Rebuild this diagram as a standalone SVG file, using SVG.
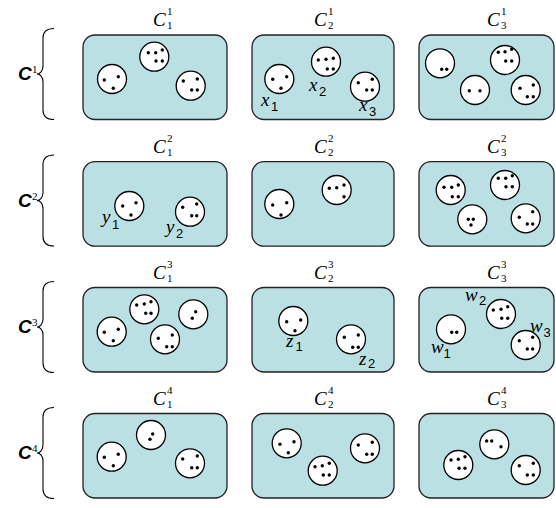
<svg xmlns="http://www.w3.org/2000/svg" width="556" height="508" viewBox="0 0 556 508">
<style>
.box{fill:#BBE0E3;stroke:#222;stroke-width:1.3}
.c{fill:#fff;stroke:#000;stroke-width:1.3}
.d{fill:#000}
.br{fill:none;stroke:#000;stroke-width:1.1}
.ct{font-family:"Liberation Serif",serif;font-style:italic;font-size:19px;fill:#000}
.cs{font-family:"Liberation Serif",serif;font-size:11px;fill:#000}
.rl{font-family:"Liberation Sans",Arial,sans-serif;font-style:italic;font-weight:bold;font-size:19px;fill:#000}
.vl{font-family:"Liberation Serif",serif;font-style:italic;font-size:19px;fill:#000}
.vs{font-family:"Liberation Sans",Arial,sans-serif;font-size:13px;fill:#000}
</style>
<rect width="556" height="508" fill="#fff"/>
<g id="braces">
<path class="br" d="M54,28.5 C47,28.5 43,31 43,38 L43,66 C43,71 40,74 37,74 C40,74 43,77 43,82 L43,110 C43,117 47,119.5 54,119.5"/>
<path class="br" d="M54,155 C47,155 43,157.5 43,164.5 L43,192.5 C43,197.5 40,200.5 37,200.5 C40,200.5 43,203.5 43,208.5 L43,236.5 C43,243.5 47,246 54,246"/>
<path class="br" d="M54,281.5 C47,281.5 43,284 43,291 L43,319 C43,324 40,327 37,327 C40,327 43,330 43,335 L43,363 C43,370 47,372.5 54,372.5"/>
<path class="br" d="M54,407.5 C47,407.5 43,410 43,417 L43,445 C43,450 40,453 37,453 C40,453 43,456 43,461 L43,489 C43,496 47,498.5 54,498.5"/>
</g>
<g id="row-labels">
<g id="C1"><text class="rl" x="18" y="80">C</text><text class="cs" x="32" y="73">1</text></g>
<g id="C2"><text class="rl" x="18" y="207">C</text><text class="cs" x="32" y="200">2</text></g>
<g id="C3"><text class="rl" x="18" y="333">C</text><text class="cs" x="32" y="326">3</text></g>
<g id="C4"><text class="rl" x="18" y="459">C</text><text class="cs" x="32" y="452">4</text></g>
</g>
<g id="column-labels">
<g><text class="ct" x="153" y="26">C</text><text class="cs" x="167" y="15">1</text><text class="cs" x="167" y="29">1</text></g>
<g><text class="ct" x="314" y="26">C</text><text class="cs" x="328" y="15">1</text><text class="cs" x="328" y="29">2</text></g>
<g><text class="ct" x="487" y="26">C</text><text class="cs" x="501" y="15">1</text><text class="cs" x="501" y="29">3</text></g>
<g><text class="ct" x="153" y="153">C</text><text class="cs" x="167" y="142">2</text><text class="cs" x="167" y="156">1</text></g>
<g><text class="ct" x="314" y="153">C</text><text class="cs" x="328" y="142">2</text><text class="cs" x="328" y="156">2</text></g>
<g><text class="ct" x="487" y="153">C</text><text class="cs" x="501" y="142">2</text><text class="cs" x="501" y="156">3</text></g>
<g><text class="ct" x="153" y="279">C</text><text class="cs" x="167" y="268">3</text><text class="cs" x="167" y="282">1</text></g>
<g><text class="ct" x="314" y="279">C</text><text class="cs" x="328" y="268">3</text><text class="cs" x="328" y="282">2</text></g>
<g><text class="ct" x="487" y="279">C</text><text class="cs" x="501" y="268">3</text><text class="cs" x="501" y="282">3</text></g>
<g><text class="ct" x="153" y="405">C</text><text class="cs" x="167" y="394">4</text><text class="cs" x="167" y="408">1</text></g>
<g><text class="ct" x="314" y="405">C</text><text class="cs" x="328" y="394">4</text><text class="cs" x="328" y="408">2</text></g>
<g><text class="ct" x="487" y="405">C</text><text class="cs" x="501" y="394">4</text><text class="cs" x="501" y="408">3</text></g>
</g>
<g id="connectors"></g>

<g id="box-1-1">
<rect class="box" x="83" y="35" width="144" height="84.5" rx="12"/>
<circle class="c" cx="112" cy="79" r="14.5"/><circle class="d" cx="104.3" cy="80" r="1.7"/><circle class="d" cx="118.3" cy="76.7" r="1.7"/><circle class="d" cx="113.3" cy="88.3" r="1.7"/>
<circle class="c" cx="154.3" cy="56.7" r="14.5"/><circle class="d" cx="148.3" cy="52.7" r="1.7"/><circle class="d" cx="155.7" cy="52.7" r="1.7"/><circle class="d" cx="162.3" cy="50" r="1.7"/><circle class="d" cx="156" cy="61" r="1.7"/><circle class="d" cx="162.3" cy="61" r="1.7"/>
<circle class="c" cx="190.7" cy="85.7" r="14.5"/><circle class="d" cx="183.3" cy="81" r="1.7"/><circle class="d" cx="197.3" cy="79" r="1.7"/><circle class="d" cx="191.7" cy="90" r="1.7"/><circle class="d" cx="197.3" cy="90" r="1.7"/>
</g>
<g id="box-1-2">
<rect class="box" x="252" y="35" width="142" height="84.5" rx="12"/>
<circle class="c" cx="279.3" cy="79" r="14.5"/><circle class="d" cx="272.7" cy="79.3" r="1.7"/><circle class="d" cx="286.7" cy="76.7" r="1.7"/><circle class="d" cx="281" cy="88.3" r="1.7"/>
<circle class="c" cx="326" cy="61.7" r="14.5"/><circle class="d" cx="318.3" cy="60" r="1.7"/><circle class="d" cx="326" cy="59.3" r="1.7"/><circle class="d" cx="333.3" cy="58.3" r="1.7"/><circle class="d" cx="327.3" cy="69" r="1.7"/><circle class="d" cx="333.3" cy="69" r="1.7"/>
<circle class="c" cx="365" cy="86.7" r="14.5"/><circle class="d" cx="358.3" cy="82.7" r="1.7"/><circle class="d" cx="372.3" cy="79.3" r="1.7"/><circle class="d" cx="366.7" cy="90" r="1.7"/><circle class="d" cx="372.3" cy="90" r="1.7"/>
<text class="vl" x="261" y="106">x</text><text class="vs" x="271" y="111">1</text>
<text class="vl" x="309" y="91">x</text><text class="vs" x="319" y="96">2</text>
<text class="vl" x="359" y="111">x</text><text class="vs" x="369" y="116">3</text>
</g>
<g id="box-1-3">
<rect class="box" x="419" y="35" width="135" height="84.5" rx="12"/>
<circle class="c" cx="440" cy="63.3" r="14.5"/><circle class="d" cx="441.7" cy="69.3" r="1.7"/><circle class="d" cx="446.7" cy="69.3" r="1.7"/>
<circle class="c" cx="505" cy="60" r="14.5"/><circle class="d" cx="498.3" cy="52.3" r="1.7"/><circle class="d" cx="505" cy="51.7" r="1.7"/><circle class="d" cx="511.7" cy="49.3" r="1.7"/><circle class="d" cx="505.7" cy="61" r="1.7"/><circle class="d" cx="511.7" cy="61" r="1.7"/>
<circle class="c" cx="475" cy="90" r="14.5"/><circle class="d" cx="469.3" cy="90.7" r="1.7"/><circle class="d" cx="480" cy="90.7" r="1.7"/>
<circle class="c" cx="525.7" cy="90" r="14.5"/><circle class="d" cx="520" cy="88.3" r="1.7"/><circle class="d" cx="533.3" cy="85" r="1.7"/><circle class="d" cx="527.3" cy="96.7" r="1.7"/><circle class="d" cx="533.3" cy="96.7" r="1.7"/>
</g>

<g id="box-2-1">
<rect class="box" x="83" y="161.7" width="144" height="84.5" rx="12"/>
<circle class="c" cx="129.3" cy="206" r="14.5"/><circle class="d" cx="122.7" cy="206" r="1.7"/><circle class="d" cx="136" cy="202.7" r="1.7"/><circle class="d" cx="131" cy="215" r="1.7"/>
<circle class="c" cx="190" cy="211.7" r="14.5"/><circle class="d" cx="182.7" cy="207.3" r="1.7"/><circle class="d" cx="196.7" cy="204" r="1.7"/><circle class="d" cx="191.7" cy="215.7" r="1.7"/><circle class="d" cx="196.7" cy="215.7" r="1.7"/>
<text class="vl" x="102" y="223">y</text><text class="vs" x="112" y="229">1</text>
<text class="vl" x="166" y="233">y</text><text class="vs" x="176" y="238">2</text>
</g>
<g id="box-2-2">
<rect class="box" x="252" y="161.7" width="142" height="84.5" rx="12"/>
<circle class="c" cx="279.3" cy="204" r="14.5"/><circle class="d" cx="272.7" cy="205" r="1.7"/><circle class="d" cx="286.7" cy="202.7" r="1.7"/><circle class="d" cx="281" cy="215" r="1.7"/>
<circle class="c" cx="336.7" cy="190" r="14.5"/><circle class="d" cx="329.3" cy="188.3" r="1.7"/><circle class="d" cx="336.7" cy="187.7" r="1.7"/><circle class="d" cx="344" cy="185" r="1.7"/><circle class="d" cx="344" cy="196.7" r="1.7"/>
</g>
<g id="box-2-3">
<rect class="box" x="419" y="161.7" width="135" height="84.5" rx="12"/>
<circle class="c" cx="450.7" cy="190" r="14.5"/><circle class="d" cx="444" cy="187.3" r="1.7"/><circle class="d" cx="451.7" cy="187.3" r="1.7"/><circle class="d" cx="458.3" cy="185" r="1.7"/><circle class="d" cx="452.3" cy="196.7" r="1.7"/><circle class="d" cx="458.3" cy="196.7" r="1.7"/>
<circle class="c" cx="505" cy="185" r="14.5"/><circle class="d" cx="498.3" cy="178.3" r="1.7"/><circle class="d" cx="505.7" cy="178.3" r="1.7"/><circle class="d" cx="512.3" cy="175.7" r="1.7"/><circle class="d" cx="506" cy="186.7" r="1.7"/><circle class="d" cx="512.3" cy="186.7" r="1.7"/>
<circle class="c" cx="472.3" cy="219.3" r="14.5"/><circle class="d" cx="468.3" cy="219.3" r="1.7"/><circle class="d" cx="473.3" cy="219.3" r="1.7"/><circle class="d" cx="471" cy="225" r="1.7"/>
<circle class="c" cx="525.7" cy="218.3" r="14.5"/><circle class="d" cx="519.3" cy="217.3" r="1.7"/><circle class="d" cx="532.7" cy="211.7" r="1.7"/><circle class="d" cx="527.3" cy="224" r="1.7"/><circle class="d" cx="532.7" cy="224" r="1.7"/>
</g>

<g id="box-3-1">
<rect class="box" x="83" y="287.5" width="144" height="84.5" rx="12"/>
<circle class="c" cx="111.7" cy="331.7" r="14.5"/><circle class="d" cx="104.3" cy="332.3" r="1.7"/><circle class="d" cx="118.3" cy="329.3" r="1.7"/><circle class="d" cx="113.3" cy="340.7" r="1.7"/>
<circle class="c" cx="144.3" cy="309.3" r="14.5"/><circle class="d" cx="136.7" cy="305" r="1.7"/><circle class="d" cx="144.3" cy="304" r="1.7"/><circle class="d" cx="151" cy="301.7" r="1.7"/><circle class="d" cx="145.7" cy="313.3" r="1.7"/><circle class="d" cx="151" cy="313.3" r="1.7"/>
<circle class="c" cx="193.3" cy="314.3" r="14.5"/><circle class="d" cx="195.7" cy="311.7" r="1.7"/><circle class="d" cx="192.3" cy="318.3" r="1.7"/>
<circle class="c" cx="165" cy="339.3" r="14.5"/><circle class="d" cx="158.3" cy="338.3" r="1.7"/><circle class="d" cx="172.3" cy="335" r="1.7"/><circle class="d" cx="166.7" cy="346.7" r="1.7"/><circle class="d" cx="172.3" cy="346.7" r="1.7"/>
</g>
<g id="box-3-2">
<rect class="box" x="252" y="287.5" width="142" height="84.5" rx="12"/>
<circle class="c" cx="293.3" cy="321" r="14.5"/><circle class="d" cx="286.7" cy="321.7" r="1.7"/><circle class="d" cx="300.7" cy="320" r="1.7"/><circle class="d" cx="295" cy="330.7" r="1.7"/>
<circle class="c" cx="351" cy="339.3" r="14.5"/><circle class="d" cx="344.3" cy="337.3" r="1.7"/><circle class="d" cx="358.3" cy="335" r="1.7"/><circle class="d" cx="352.7" cy="347.3" r="1.7"/><circle class="d" cx="358.3" cy="347.3" r="1.7"/>
<text class="vl" x="286" y="347">z</text><text class="vs" x="295.5" y="351">1</text>
<text class="vl" x="359" y="365">z</text><text class="vs" x="368" y="368">2</text>
</g>
<g id="box-3-3">
<rect class="box" x="419" y="287.5" width="135" height="84.5" rx="12"/>
<circle class="c" cx="451" cy="329.3" r="14.5"/><circle class="d" cx="451.7" cy="332.3" r="1.7"/><circle class="d" cx="456.7" cy="332.3" r="1.7"/>
<circle class="c" cx="501" cy="314" r="14.5"/><circle class="d" cx="493.3" cy="310" r="1.7"/><circle class="d" cx="501" cy="309.3" r="1.7"/><circle class="d" cx="507.7" cy="306.7" r="1.7"/><circle class="d" cx="501.7" cy="318.3" r="1.7"/><circle class="d" cx="507.7" cy="318.3" r="1.7"/>
<circle class="c" cx="525.7" cy="345" r="14.5"/><circle class="d" cx="519.3" cy="340.7" r="1.7"/><circle class="d" cx="532.7" cy="337.3" r="1.7"/><circle class="d" cx="527.3" cy="349" r="1.7"/><circle class="d" cx="532.7" cy="349" r="1.7"/>
<text class="vl" x="431" y="353">w</text><text class="vs" x="443.5" y="358">1</text>
<text class="vl" x="465" y="301">w</text><text class="vs" x="479" y="305">2</text>
<text class="vl" x="530" y="332">w</text><text class="vs" x="543.5" y="337">3</text>
</g>

<g id="box-4-1">
<rect class="box" x="83" y="413.5" width="144" height="84.5" rx="12"/>
<circle class="c" cx="111.7" cy="456.7" r="14.5"/><circle class="d" cx="104.3" cy="457.3" r="1.7"/><circle class="d" cx="118.3" cy="454.3" r="1.7"/><circle class="d" cx="113.3" cy="465.7" r="1.7"/>
<circle class="c" cx="151" cy="435" r="14.5"/><circle class="d" cx="152.7" cy="434" r="1.7"/><circle class="d" cx="150" cy="439.3" r="1.7"/>
<circle class="c" cx="190" cy="463.3" r="14.5"/><circle class="d" cx="182.7" cy="459" r="1.7"/><circle class="d" cx="197.3" cy="456" r="1.7"/><circle class="d" cx="191.7" cy="467.7" r="1.7"/><circle class="d" cx="197.3" cy="467.7" r="1.7"/>
</g>
<g id="box-4-2">
<rect class="box" x="252" y="413.5" width="142" height="84.5" rx="12"/>
<circle class="c" cx="286.7" cy="443.3" r="14.5"/><circle class="d" cx="280" cy="444.3" r="1.7"/><circle class="d" cx="294" cy="441.7" r="1.7"/><circle class="d" cx="288.3" cy="452.7" r="1.7"/>
<circle class="c" cx="322.7" cy="470.7" r="14.5"/><circle class="d" cx="315" cy="466.7" r="1.7"/><circle class="d" cx="322.3" cy="465.7" r="1.7"/><circle class="d" cx="329.3" cy="463.3" r="1.7"/><circle class="d" cx="323.3" cy="475" r="1.7"/><circle class="d" cx="329.3" cy="475" r="1.7"/>
<circle class="c" cx="365" cy="448.3" r="14.5"/><circle class="d" cx="358.3" cy="445" r="1.7"/><circle class="d" cx="372.3" cy="442.3" r="1.7"/><circle class="d" cx="366.7" cy="454.3" r="1.7"/><circle class="d" cx="372.3" cy="454.3" r="1.7"/>
</g>
<g id="box-4-3">
<rect class="box" x="419" y="413.5" width="135" height="84.5" rx="12"/>
<circle class="c" cx="458.3" cy="465" r="14.5"/><circle class="d" cx="451" cy="460" r="1.7"/><circle class="d" cx="458.3" cy="459.3" r="1.7"/><circle class="d" cx="465" cy="456.7" r="1.7"/><circle class="d" cx="459" cy="468.3" r="1.7"/><circle class="d" cx="465" cy="468.3" r="1.7"/>
<circle class="c" cx="494.3" cy="444.3" r="14.5"/><circle class="d" cx="486.7" cy="441" r="1.7"/><circle class="d" cx="491.7" cy="441" r="1.7"/><circle class="d" cx="501" cy="446.7" r="1.7"/>
<circle class="c" cx="525.7" cy="470" r="14.5"/><circle class="d" cx="519.3" cy="465.7" r="1.7"/><circle class="d" cx="533.3" cy="463.3" r="1.7"/><circle class="d" cx="527.3" cy="475" r="1.7"/><circle class="d" cx="533.3" cy="475" r="1.7"/>
</g>
</svg>
